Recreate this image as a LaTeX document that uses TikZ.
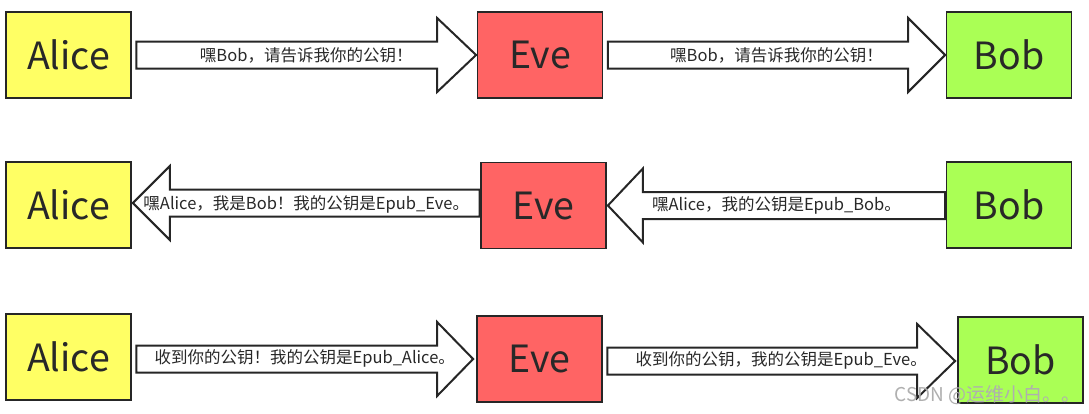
\documentclass[tikz,border=0pt]{standalone}
\usepackage{fontspec}
\setmainfont{Noto Sans CJK SC}
\usetikzlibrary{calc}
\definecolor{aliceyellow}{RGB}{255,255,100}
\definecolor{evered}{RGB}{255,100,100}
\definecolor{bobgreen}{RGB}{170,255,85}
\definecolor{txtdark}{RGB}{40,40,40}
\definecolor{wmgray}{RGB}{175,175,175}
\newcommand{\rightbig}[4]{% start, tip, head length, text
  \draw[bigarrow] let \p1=(#1), \p2=(#2) in
    (\x1,\y2+13.5pt) -- (\x2-#3pt,\y2+13.5pt) -- (\x2-#3pt,\y2+37pt) -- (\x2,\y2)
    -- (\x2-#3pt,\y2-37pt) -- (\x2-#3pt,\y2-13.5pt) -- (\x1,\y2-13.5pt) -- cycle;
  \node[msg] at ($(#1)!0.5!(#2)$) {#4};}
\newcommand{\leftbig}[4]{% start, tip, head length, text
  \draw[bigarrow] let \p1=(#1), \p2=(#2) in
    (\x1,\y2+13.5pt) -- (\x2+#3pt,\y2+13.5pt) -- (\x2+#3pt,\y2+37pt) -- (\x2,\y2)
    -- (\x2+#3pt,\y2-37pt) -- (\x2+#3pt,\y2-13.5pt) -- (\x1,\y2-13.5pt) -- cycle;
  \node[msg] at ($(#1)!0.5!(#2)$) {#4};}
\begin{document}
\begin{tikzpicture}[x=1pt,y=-1pt,
  party/.style={draw=black!85, line width=1.8pt, minimum width=125pt, minimum height=86pt,
    inner sep=0pt, font=\fontsize{37.5}{40}\selectfont, text=txtdark},
  bigarrow/.style={draw=black!85, line width=2pt, fill=white, line join=miter},
  msg/.style={font=\fontsize{16.5}{18}\selectfont, text=txtdark, inner sep=0pt}]
\useasboundingbox (0,0) rectangle (1089,413);
\fill[white] (0,0) rectangle (1089,413);
% row 1
\node[party, fill=aliceyellow] (alice1) at (68.5,55) {Alice};
\node[party, fill=evered] (eve1) at (540,55) {Eve};
\node[party, fill=bobgreen] (bob1) at (1009,55) {Bob};
% row 2
\node[party, fill=aliceyellow] (alice2) at (68.5,205) {Alice};
\node[party, fill=evered] (eve2) at (543.5,205.5) {Eve};
\node[party, fill=bobgreen] (bob2) at (1009,205) {Bob};
% row 3
\node[party, fill=aliceyellow] (alice3) at (68.5,357) {Alice};
\node[party, fill=evered] (eve3) at (539.5,359) {Eve};
\node[party, fill=bobgreen] (bob3) at (1020.5,360) {Bob};
% arrows row 1
\coordinate (s1a) at ($(alice1.east)+(4.5,0)$);
\coordinate (t1a) at ($(eve1.west)+(-0.5,0)$);
\rightbig{s1a}{t1a}{39}{嘿Bob，请告诉我你的公钥！}
\coordinate (s1b) at ($(eve1.east)+(4.5,0)$);
\coordinate (t1b) at ($(bob1.west)+(-0.5,0)$);
\rightbig{s1b}{t1b}{37}{嘿Bob，请告诉我你的公钥！}
% arrows row 2
\coordinate (s2a) at ($(eve2.west)+(-0.5,0)$);
\coordinate (t2a) at ($(alice2.east)+(1,-2)$);
\leftbig{s2a}{t2a}{37}{嘿Alice，我是Bob！我的公钥是Epub\_Eve。}
\coordinate (s2b) at ($(bob2.west)+(-0.5,0)$);
\coordinate (t2b) at ($(eve2.east)+(1,0)$);
\leftbig{s2b}{t2b}{35}{嘿Alice，我的公钥是Epub\_Bob。}
% arrows row 3
\coordinate (s3a) at ($(alice3.east)+(4.5,0)$);
\coordinate (t3a) at ($(eve3.west)+(-3,0)$);
\rightbig{s3a}{t3a}{36}{收到你的公钥！我的公钥是Epub\_Alice。}
\coordinate (s3b) at ($(eve3.east)+(4.5,0)$);
\coordinate (t3b) at ($(bob3.west)+(-2,1)$);
\rightbig{s3b}{t3b}{38}{收到你的公钥，我的公钥是Epub\_Eve。}
% watermark text
\node[font=\fontsize{19}{21}\selectfont, text=wmgray, anchor=east, inner sep=0pt] (wm) at (1081,395) {CSDN @运维小白。。};
\end{tikzpicture}
\end{document}
